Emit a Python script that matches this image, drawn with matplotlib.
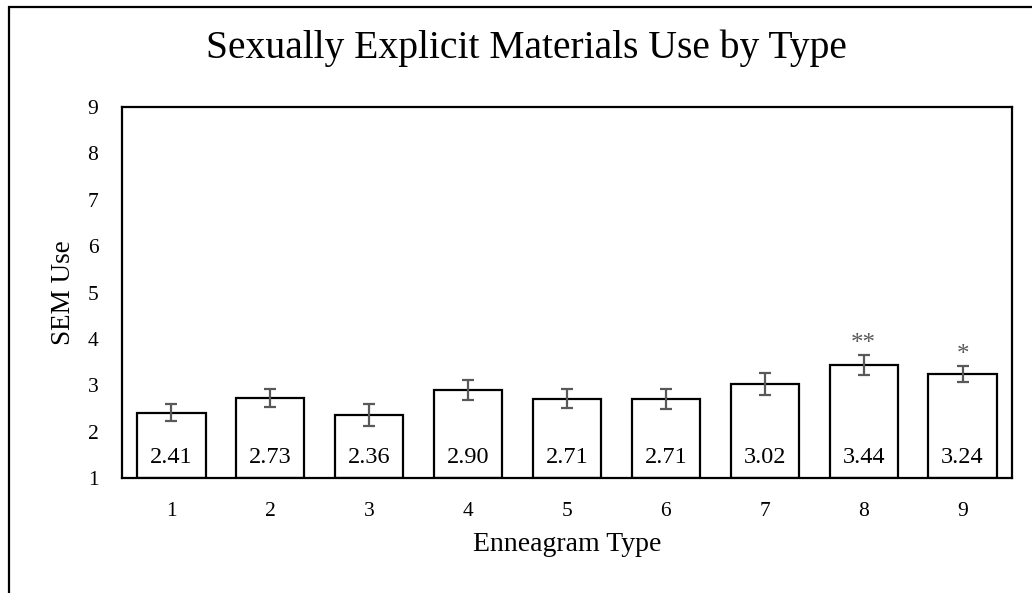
import numpy as np
import matplotlib
matplotlib.use("Agg")
import matplotlib.pyplot as plt
from matplotlib.patches import Rectangle

plt.rcParams['font.family'] = ['Liberation Serif', 'DejaVu Serif']

# Mean SEM use per Enneagram type, with error bar half-widths
types = ["1", "2", "3", "4", "5", "6", "7", "8", "9"]
means = [2.41, 2.73, 2.36, 2.90, 2.71, 2.71, 3.02, 3.44, 3.24]
errors = [0.19, 0.20, 0.24, 0.22, 0.20, 0.22, 0.24, 0.22, 0.18]
stars = ["", "", "", "", "", "", "", "**", "*"]

base = 1
err_col = "#595959"

fig = plt.figure(figsize=(10.32, 5.93), dpi=100)
ax = fig.add_axes([0.1182, 0.1939, 0.8624, 0.6256])

x = np.arange(len(types))
heights = [m - base for m in means]
ax.bar(x, heights, bottom=base, width=0.69, color="white",
       edgecolor="black", linewidth=1.6, zorder=2)
ax.errorbar(x, means, yerr=errors, fmt="none", ecolor=err_col,
            elinewidth=1.6, capsize=4.5, capthick=1.6, zorder=3)

for xi, m, e, s in zip(x, means, errors, stars):
    ax.text(xi, 1.45, "%.2f" % m, ha="center", va="center", fontsize=17.5)
    if s:
        ax.annotate(s, (xi, m + e), xytext=(0, 0), textcoords="offset points",
                    ha="center", va="bottom", fontsize=18, color=err_col)

ax.set_xlim(-0.5, len(types) - 0.5)
ax.set_ylim(1, 9)
ax.set_yticks(range(1, 10))
ax.set_xticks(x)
ax.set_xticklabels(types)
ax.tick_params(length=0, labelsize=15.5, pad=17)
ax.tick_params(axis="y", pad=17)
for sp in ax.spines.values():
    sp.set_linewidth(1.6)

ax.set_xlabel("Enneagram Type", fontsize=20, labelpad=8)
ax.set_ylabel("SEM Use", fontsize=19.5, labelpad=8)
fig.text(0.51, 0.918, "Sexually Explicit Materials Use by Type",
         ha="center", va="center", fontsize=28.5)

# outer chart frame
fig.patches.append(Rectangle((9 / 1032, -0.5), 2, 0.988 + 0.5,
                             transform=fig.transFigure, fill=False,
                             edgecolor="black", linewidth=1.6))

fig.savefig("out.png", dpi=100)
